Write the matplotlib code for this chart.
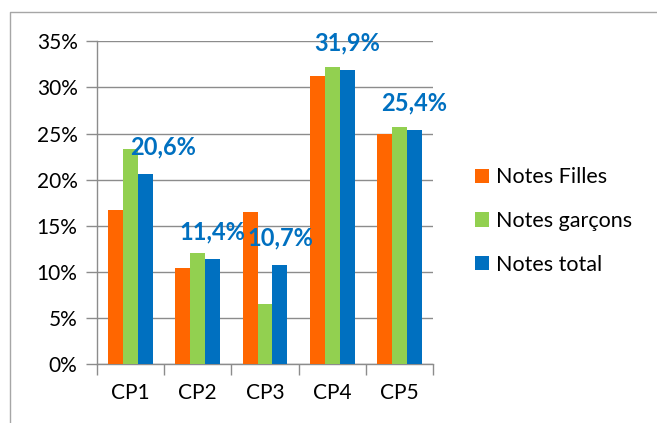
import numpy as np
import matplotlib
matplotlib.use('Agg')
import matplotlib.pyplot as plt
from matplotlib.patches import Patch
from matplotlib.lines import Line2D
from matplotlib.ticker import PercentFormatter, FixedLocator, NullFormatter

categories = ['CP1', 'CP2', 'CP3', 'CP4', 'CP5']
filles = [16.7, 10.45, 16.5, 31.2, 25.0]
garcons = [23.35, 12.0, 6.55, 32.25, 25.7]
total = [20.6, 11.4, 10.7, 31.9, 25.4]
series_names = ['Notes Filles', 'Notes garçons', 'Notes total']
colors = ['#FF6600', '#92D050', '#0070C0']

plt.rcParams['font.family'] = ['Lato', 'DejaVu Sans']

fig = plt.figure(figsize=(6.57, 4.23), dpi=100)
ax = fig.add_axes([97 / 657, 1 - 364 / 423, 336 / 657, (364 - 41.3) / 423])

# light frame around the chart (only left and top visible)
fx, fy = 9.5 / 657, 1 - 12.5 / 423
fig.lines.append(Line2D([fx, fx, 1.0], [0.0, fy, fy], transform=fig.transFigure,
                        color='#A6A6A6', linewidth=1))

x = np.arange(len(categories))
w = 0.223
for i, (vals, c) in enumerate(zip([filles, garcons, total], colors)):
    ax.bar(x + (i - 1) * w, vals, width=w, color=c, zorder=3)

# value labels on the total bars
for xi, v in zip(x, total):
    dx = 17 if xi == 0 else 0
    ax.annotate(f'{v:.1f}%'.replace('.', ','), (xi + w, v),
                xytext=(dx * 0.72, 19.4), textcoords='offset points',
                ha='center', va='center', color='#0070C0',
                fontsize=17, fontweight='bold', zorder=4)

ax.set_xlim(-0.5, 4.5)
ax.set_ylim(0, 35)
ax.yaxis.set_major_locator(FixedLocator(np.arange(0, 36, 5)))
ax.yaxis.set_major_formatter(PercentFormatter(decimals=0))
ax.grid(axis='y', color='#8C8C8C', linewidth=1, zorder=0)

ax.set_xticks(np.arange(-0.5, 5, 1))
ax.xaxis.set_major_formatter(NullFormatter())
ax.set_xticks(x, minor=True)
ax.set_xticklabels(categories, minor=True)
ax.tick_params(axis='x', which='major', length=8, color='#8C8C8C', width=1)
ax.tick_params(axis='x', which='minor', length=0, pad=14, labelsize=15)
ax.tick_params(axis='y', length=8, color='#8C8C8C', width=1, pad=6, labelsize=15)

for s in ['top', 'right']:
    ax.spines[s].set_visible(False)
for s in ['left', 'bottom']:
    ax.spines[s].set_color('#8C8C8C')
    ax.spines[s].set_linewidth(1)

handles = [Patch(facecolor=c) for c in colors]
fig.legend(handles, series_names, loc='center left',
           bbox_to_anchor=(475 / 657, 1 - 221 / 423), frameon=False,
           fontsize=15.5, handlelength=0.65, handleheight=0.65,
           handletextpad=0.32, labelspacing=1.1, borderpad=0, borderaxespad=0)

fig.savefig('out.png', dpi=100)
